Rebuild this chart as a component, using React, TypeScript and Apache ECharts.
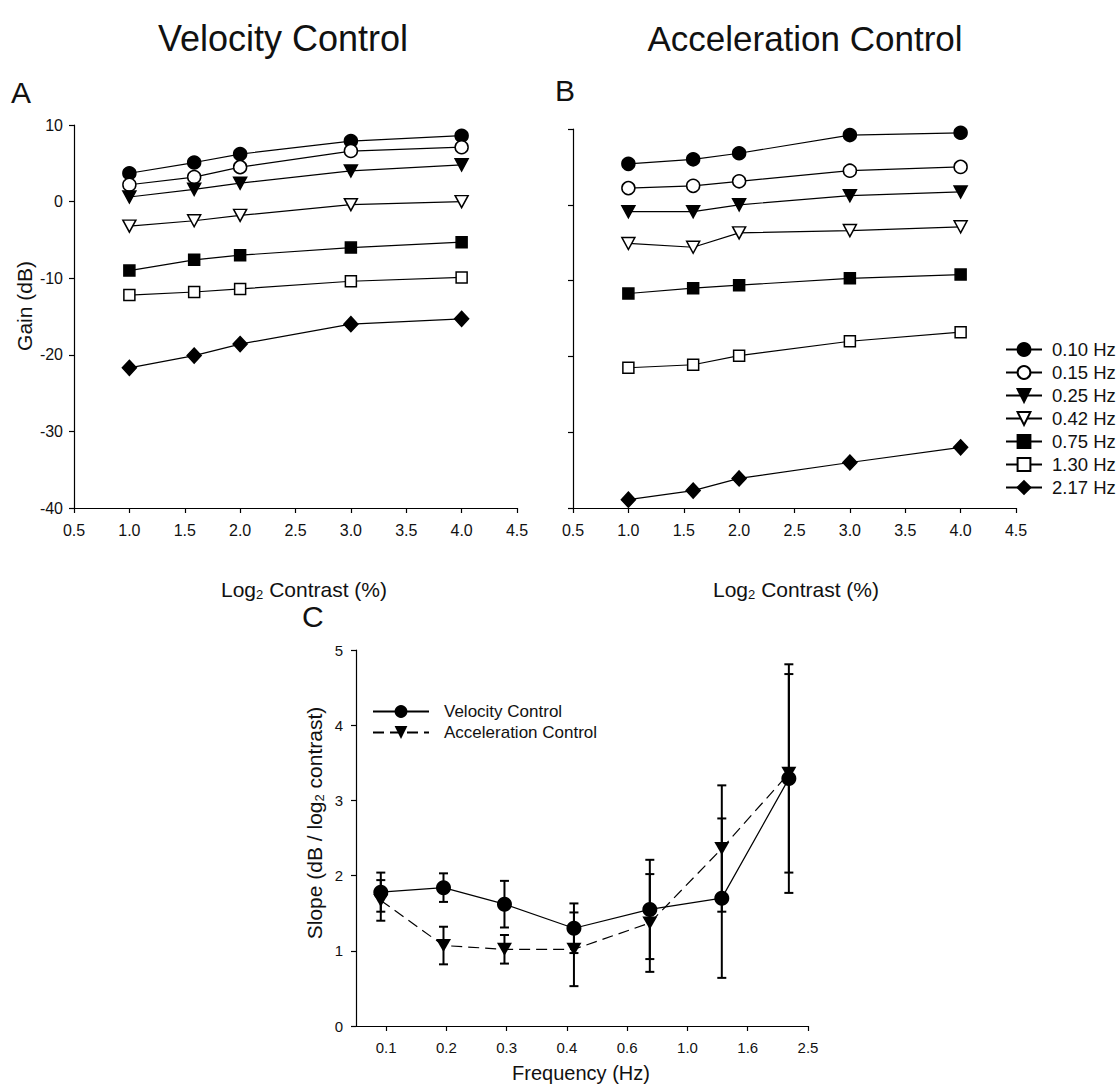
import React, { useEffect, useRef } from 'react';
import * as echarts from 'echarts';

// ---------- Data ----------
const contrastLog2 = [1, 1.585, 2, 3, 4];
const freqLabels = ['0.10 Hz', '0.15 Hz', '0.25 Hz', '0.42 Hz', '0.75 Hz', '1.30 Hz', '2.17 Hz'];

// Panel A: Velocity control gain (dB)
const velGain010 = [3.7, 5.1, 6.2, 7.9, 8.6];
const velGain015 = [2.2, 3.2, 4.5, 6.6, 7.1];
const velGain025 = [0.6, 1.6, 2.4, 4.0, 4.8];
const velGain042 = [-3.2, -2.5, -1.8, -0.4, 0.0];
const velGain075 = [-9.0, -7.6, -7.0, -6.0, -5.3];
const velGain130 = [-12.2, -11.8, -11.4, -10.4, -9.9];
const velGain217 = [-21.7, -20.1, -18.6, -16.0, -15.3];

// Panel B: Acceleration control gain (dB)
const accGain010 = [5.4, 6.0, 6.8, 9.2, 9.5];
const accGain015 = [2.2, 2.5, 3.1, 4.5, 5.0];
const accGain025 = [-0.9, -0.9, 0.0, 1.2, 1.7];
const accGain042 = [-5.1, -5.6, -3.7, -3.4, -2.9];
const accGain075 = [-11.7, -11.0, -10.6, -9.7, -9.2];
const accGain130 = [-21.5, -21.1, -19.9, -18.0, -16.8];
const accGain217 = [-38.9, -37.7, -36.1, -34.0, -32.0];

// Panel C: slopes
const freqHz = [0.096, 0.155, 0.247, 0.42, 0.75, 1.3, 2.17];
const velSlope = [1.78, 1.84, 1.62, 1.30, 1.55, 1.70, 3.29];
const velSlopeErr = [0.26, 0.19, 0.31, 0.33, 0.66, 1.06, 1.52];
const accSlope = [1.67, 1.07, 1.02, 1.02, 1.37, 2.36, 3.36];
const accSlopeErr = [0.27, 0.25, 0.19, 0.49, 0.65, 0.84, 1.32];
const freqTickLog = [-1, -0.8, -0.6, -0.4, -0.2, 0, 0.2, 0.4];

const velGains = [velGain010, velGain015, velGain025, velGain042, velGain075, velGain130, velGain217];
const accGains = [accGain010, accGain015, accGain025, accGain042, accGain075, accGain130, accGain217];

// ---------- Styles ----------
const FONT = 'Liberation Sans, Arial, Helvetica, sans-serif';
const markerStyles = [
  { symbol: 'circle', fill: '#000', size: 13, rotate: 0 },
  { symbol: 'circle', fill: '#fff', size: 13, rotate: 0 },
  { symbol: 'triangle', fill: '#000', size: [13, 12], rotate: 180 },
  { symbol: 'triangle', fill: '#fff', size: [13, 12], rotate: 180 },
  { symbol: 'rect', fill: '#000', size: 11, rotate: 0 },
  { symbol: 'rect', fill: '#fff', size: 11, rotate: 0 },
  { symbol: 'diamond', fill: '#000', size: [14, 15], rotate: 0 },
];

function gainSeries(values: number[][], axisIndex: number) {
  return values.map((vals, i) => {
    const st = markerStyles[i];
    return {
      type: 'line',
      name: freqLabels[i],
      xAxisIndex: axisIndex,
      yAxisIndex: axisIndex,
      data: vals.map((v, j) => [contrastLog2[j], v]),
      symbol: st.symbol,
      symbolSize: st.size,
      symbolRotate: st.rotate,
      showAllSymbol: true,
      lineStyle: { color: '#000', width: 1.2 },
      itemStyle: { color: st.fill, borderColor: '#000', borderWidth: 1.5 },
      emphasis: { disabled: true },
      z: 3,
    };
  });
}

function errSeries(name: string, means: number[], errs: number[]) {
  return {
    type: 'custom',
    name,
    xAxisIndex: 2,
    yAxisIndex: 2,
    z: 1,
    data: freqHz.map((f, i) => [Math.log10(f), means[i] - errs[i], means[i] + errs[i]]),
    encode: { x: 0, y: [1, 2] },
    renderItem: (_params: any, api: any) => {
      const x = api.value(0);
      const lo = api.coord([x, api.value(1)]);
      const hi = api.coord([x, api.value(2)]);
      const h = 4.5;
      const st = { stroke: '#000', lineWidth: 2 };
      return {
        type: 'group',
        children: [
          { type: 'line', shape: { x1: lo[0], y1: lo[1], x2: hi[0], y2: hi[1] }, style: st },
          { type: 'line', shape: { x1: lo[0] - h, y1: lo[1], x2: lo[0] + h, y2: lo[1] }, style: st },
          { type: 'line', shape: { x1: hi[0] - h, y1: hi[1], x2: hi[0] + h, y2: hi[1] }, style: st },
        ],
      };
    },
  };
}

const axisCommon = {
  axisLine: { onZero: false, lineStyle: { color: '#000', width: 1.2 } },
  axisTick: { lineStyle: { color: '#000', width: 1.2 }, length: 5 },
  splitLine: { show: false },
};

const contrastX = (gridIndex: number) => ({
  type: 'value',
  gridIndex,
  min: 0.5,
  max: 4.5,
  interval: 0.5,
  ...axisCommon,
  axisLabel: { color: '#111', fontSize: 16, fontFamily: FONT, margin: 14, formatter: (v: number) => v.toFixed(1) },
});

const gainY = (gridIndex: number, showLabels: boolean) => ({
  type: 'value',
  gridIndex,
  min: -40,
  max: 10,
  interval: 10,
  ...axisCommon,
  axisLabel: { show: showLabels, color: '#111', fontSize: 16, fontFamily: FONT, margin: 11 },
});

const subRich = {
  a: { fontSize: 21, fontFamily: FONT, color: '#111', lineHeight: 24, verticalAlign: 'middle' },
  s: { fontSize: 13, fontFamily: FONT, color: '#111', lineHeight: 13, verticalAlign: 'bottom' },
};

function txt(text: string, x: number, y: number, fontSize: number, align = 'center', rotation = 0) {
  return {
    type: 'text',
    x,
    y,
    rotation,
    style: { text, fontSize, fontFamily: FONT, fill: '#111', align, verticalAlign: 'middle' },
  };
}

function richTxt(text: string, x: number, y: number, rotation = 0) {
  return {
    type: 'text',
    x,
    y,
    rotation,
    style: { text, rich: subRich, align: 'center', verticalAlign: 'middle', fill: '#111' },
  };
}

const option: any = {
  animation: false,
  backgroundColor: '#fff',
  textStyle: { fontFamily: FONT },
  grid: [
    { left: 74, top: 125, width: 443, height: 383 },
    { left: 573, top: 129, width: 443, height: 379 },
    { left: 356, top: 650, width: 452, height: 376 },
  ],
  xAxis: [
    contrastX(0),
    contrastX(1),
    {
      type: 'value',
      gridIndex: 2,
      min: -1.1,
      max: 0.4,
      ...axisCommon,
      axisTick: { ...axisCommon.axisTick, customValues: freqTickLog },
      axisLabel: {
        customValues: freqTickLog,
        color: '#111',
        fontSize: 15,
        fontFamily: FONT,
        margin: 14,
        formatter: (v: number) => Math.pow(10, v).toFixed(1),
      },
    },
  ],
  yAxis: [
    gainY(0, true),
    gainY(1, false),
    {
      type: 'value',
      gridIndex: 2,
      min: 0,
      max: 5,
      interval: 1,
      ...axisCommon,
      axisLabel: { color: '#111', fontSize: 15, fontFamily: FONT, margin: 13 },
    },
  ],
  legend: [
    {
      data: freqLabels,
      orient: 'vertical',
      left: 1000,
      top: 335,
      itemWidth: 36,
      itemHeight: 16,
      itemGap: 4,
      selectedMode: false,
      textStyle: { fontSize: 18.5, fontFamily: FONT, color: '#111', lineHeight: 17, padding: [0, 0, 0, 5] },
    },
    {
      data: ['Velocity Control', 'Acceleration Control'],
      orient: 'vertical',
      left: 367,
      top: 698,
      itemWidth: 56,
      itemHeight: 16,
      itemGap: 4,
      selectedMode: false,
      textStyle: { fontSize: 17, fontFamily: FONT, color: '#111', lineHeight: 16, padding: [0, 0, 0, 10] },
    },
  ],
  graphic: [
    txt('Velocity Control', 283, 38, 36),
    txt('Acceleration Control', 805, 38, 35),
    txt('A', 11, 92, 30, 'left'),
    txt('B', 555, 90, 30, 'left'),
    txt('C', 302, 616, 30, 'left'),
    txt('Gain (dB)', 24, 306, 21, 'center', Math.PI / 2),
    richTxt('{a|Log}{s|2}{a| Contrast (%)}', 304, 589),
    richTxt('{a|Log}{s|2}{a| Contrast (%)}', 796, 589),
    richTxt('{a|Slope (dB / log}{s|2}{a| contrast)}', 314, 823, Math.PI / 2),
    txt('Frequency (Hz)', 581, 1073, 20),
  ],
  series: [
    ...gainSeries(velGains, 0),
    ...gainSeries(accGains, 1),
    errSeries('velErr', velSlope, velSlopeErr),
    errSeries('accErr', accSlope, accSlopeErr),
    {
      type: 'line',
      name: 'Velocity Control',
      xAxisIndex: 2,
      yAxisIndex: 2,
      data: freqHz.map((f, i) => [Math.log10(f), velSlope[i]]),
      symbol: 'circle',
      symbolSize: 15,
      lineStyle: { color: '#000', width: 1.2 },
      itemStyle: { color: '#000' },
      z: 3,
    },
    {
      type: 'line',
      name: 'Acceleration Control',
      xAxisIndex: 2,
      yAxisIndex: 2,
      data: freqHz.map((f, i) => [Math.log10(f), accSlope[i]]),
      symbol: 'triangle',
      symbolRotate: 180,
      symbolSize: [15, 13],
      lineStyle: { color: '#000', width: 1.2, type: [11, 6] },
      itemStyle: { color: '#000' },
      z: 3,
    },
  ],
};

export default function App() {
  const ref = useRef<HTMLDivElement>(null);
  useEffect(() => {
    document.body.style.margin = '0';
    const chart = echarts.init(ref.current as HTMLDivElement, null, { renderer: 'svg' });
    chart.setOption(option);
    return () => chart.dispose();
  }, []);
  return <div ref={ref} style={{ width: 1116, height: 1087, background: '#fff' }} />;
}
